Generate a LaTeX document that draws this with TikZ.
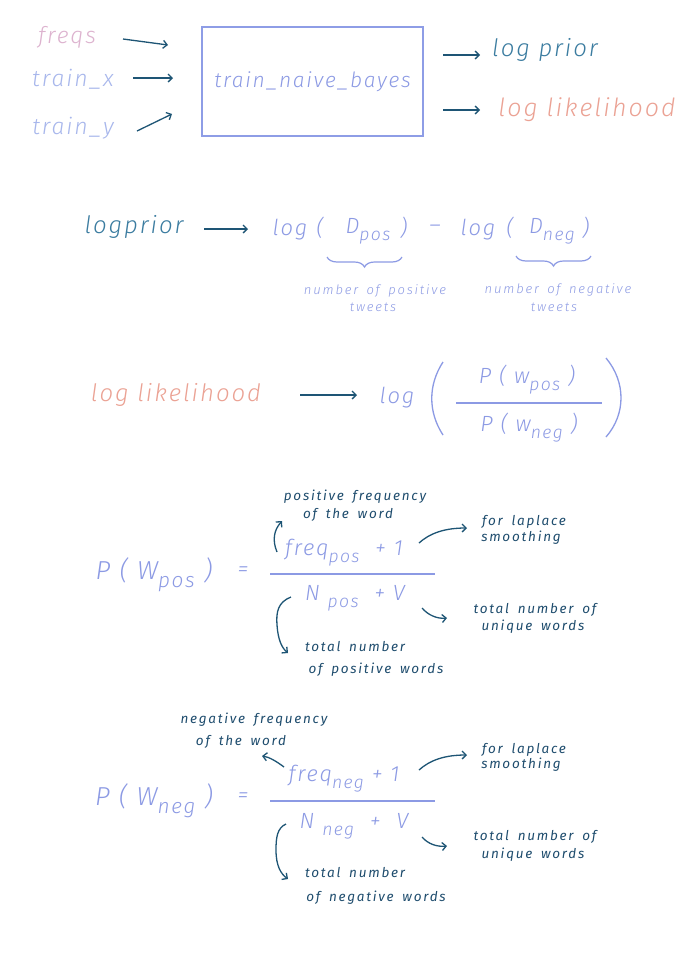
\documentclass[tikz,border=0pt]{standalone}
\usepackage{fontspec}
\usepackage{graphicx}
\setmainfont{Fira Sans}
\newfontfamily\hand{Fira Sans}[LetterSpace=8.0, UprightFont=* Light, ItalicFont=* Light Italic]
\newfontfamily\handw{Fira Sans}[LetterSpace=14.0, UprightFont=* Light, ItalicFont=* Light Italic]
\newfontfamily\handr{Fira Sans}[LetterSpace=13.0]
\usetikzlibrary{arrows.meta,decorations.pathreplacing}
\definecolor{freqsC}{HTML}{DDB3CF}
\definecolor{inC}{HTML}{A8B7EC}
\definecolor{arrC}{HTML}{1E5575}
\definecolor{boxC}{HTML}{8E9DE6}
\definecolor{priorC}{HTML}{3B7CA0}
\definecolor{likeC}{HTML}{EBA294}
\definecolor{fmlC}{HTML}{8C9AE4}
\definecolor{annC}{HTML}{1F4D6E}
\newcommand\sbs[1]{\raisebox{-0.6ex}{\scalebox{0.8}{#1}}}
\newcommand\fsz[1]{\fontsize{#1}{#1}\selectfont}
\newcommand\wsp{\spaceskip=0.65em\relax}
\tikzset{
  every node/.style={inner sep=0pt, outer sep=0pt},
  inp/.style={text=inC, font=\hand\itshape\fsz{23}},
  arr/.style={draw=arrC, line width=1.3pt, -{Straight Barb[length=4pt,width=8pt]}},
  fml/.style={text=fmlC, font=\hand\itshape\fsz{22}},
  big/.style={text=fmlC, font=\hand\itshape\fsz{26}},
  lann/.style={text=fmlC, font={\handw\itshape\fsz{13}\wsp}},
  ann/.style={text=annC, font={\handr\itshape\fsz{13.5}\wsp}},
  prior/.style={text=priorC, font=\hand\itshape\fsz{24}},
  like/.style={text=likeC, font=\hand\itshape\fsz{24}},
  fline/.style={draw=fmlC, line width=1.3pt},
  brc/.style={draw=fmlC, line width=1.2pt, decorate, decoration={brace, amplitude=10pt, mirror}},
}
\begin{document}
\begin{tikzpicture}[x=1pt,y=-1pt]
\useasboundingbox[fill=white] (0,0) rectangle (694,959);
% ---------- top ----------
\node[inp, text=freqsC] (freqs) at (67,37) {freqs};
\node[inp] (trainx) at (73,79) {train\_x};
\node[inp] (trainy) at (73,128) {train\_y};
\node[draw=boxC, line width=1.3pt, minimum width=221pt, minimum height=109pt, fml, font=\hand\itshape\fsz{21}] (box) at (312.5,81.5) {\raisebox{4pt}{train\_naive\_bayes}};
\coordinate (f1) at (123,39); \coordinate (f2) at (168,45);
\coordinate (x1) at (133,78); \coordinate (x2) at (173,78);
\coordinate (y1) at (137,131); \coordinate (y2) at (172,114);
\draw[arr] (f1) -- (f2);
\draw[arr] (x1) -- (x2);
\draw[arr] (y1) -- (y2);
\coordinate (o1) at (443,55); \coordinate (o2) at (480,55);
\coordinate (o3) at (443,110); \coordinate (o4) at (480,110);
\draw[arr] (o1) -- (o2);
\draw[arr] (o3) -- (o4);
\node[prior] (lp) at (545,50) {log prior};
\node[like, font=\hand\itshape\fsz{25}] (ll) at (587,110) {log likelihood};
% ---------- log prior ----------
\node[prior] (lp2) at (134,227) {logprior};
\coordinate (p1) at (204,229); \coordinate (p2) at (248,229);
\draw[arr] (p1) -- (p2);
\node[fml] (log1) at (290,230) {log};
\node[fml] (lpar1) at (320,228) {(};
\node[fml] (dpos) at (368,231) {D\sbs{pos}};
\node[fml] (rpar1) at (404,228) {)};
\node[fml] (minus) at (435,229) {–};
\node[fml] (log2) at (478,230) {log};
\node[fml] (lpar2) at (510,228) {(};
\node[fml] (dneg) at (552,231) {D\sbs{neg}};
\node[fml] (rpar2) at (586,228) {)};
\coordinate (b1s) at (327,257); \coordinate (b1e) at (402,257);
\coordinate (b2s) at (516,256); \coordinate (b2e) at (591,256);
\draw[brc] (b1s) -- (b1e);
\draw[brc] (b2s) -- (b2e);
\node[lann] (np1) at (375,291) {number of positive};
\node[lann] (np2) at (373,307) {tweets};
\node[lann] (nn1) at (558,290) {number of negative};
\node[lann] (nn2) at (554,307) {tweets};
% ---------- log likelihood ----------
\node[like] (ll2) at (176,395) {log likelihood};
\coordinate (l1) at (300,395); \coordinate (l2) at (357,395);
\draw[arr] (l1) -- (l2);
\node[fml] (log3) at (397,398) {log};
\coordinate (bp1) at (443,362); \coordinate (bp2) at (443,435);
\coordinate (bq1) at (606,358); \coordinate (bq2) at (606,437);
\draw[fline] (bp1) .. controls (428,385) and (428,412) .. (bp2);
\draw[fline] (bq1) .. controls (626,382) and (626,414) .. (bq2);
\node[fml] (num3) at (527,380) {P ( w\sbs{pos} )};
\node[fml] (den3) at (529,428) {P ( w\sbs{neg} )};
\coordinate (fl3a) at (456,403); \coordinate (fl3b) at (602,403);
\draw[fline] (fl3a) -- (fl3b);
% ---------- P(W_pos) ----------
\node[big] (pwp) at (154,575) {P ( W\sbs{pos} )};
\node[fml] (eq1) at (243,572) {=};
\node[fml] (num4) at (344,553) {freq\sbs{pos} \ + 1};
\node[fml] (den4) at (355,598) {N \sbs{pos} \ + V};
\coordinate (fl4a) at (270,574); \coordinate (fl4b) at (435,574);
\draw[fline] (fl4a) -- (fl4b);
\node[ann] (pf1) at (355,497) {positive frequency};
\node[ann] (pf2) at (348,515) {of the word};
\node[ann] (lp1) at (524,522) {for laplace};
\node[ann] (lpb) at (521,538) {smoothing};
\node[ann] (tu1) at (535,610) {total number of};
\node[ann] (tu2) at (533,627) {unique words};
\node[ann] (tp1) at (355,647) {total number};
\node[ann] (tp2) at (376,670) {of positive words};
\coordinate (a1s) at (277,552); \coordinate (a1e) at (282,521);
\draw[arr] (a1s) .. controls (272,540) and (274,530) .. (a1e);
\coordinate (a2s) at (419,543); \coordinate (a2e) at (467,528);
\draw[arr] (a2s) .. controls (430,533) and (445,528) .. (a2e);
\coordinate (a3s) at (422,608); \coordinate (a3e) at (447,618);
\draw[arr] (a3s) .. controls (428,615) and (437,619) .. (a3e);
\coordinate (a4s) at (291,597); \coordinate (a4m) at (277,625); \coordinate (a4e) at (288,653);
\draw[arr] (a4s) .. controls (278,602) and (276,612) .. (a4m) .. controls (278,640) and (282,648) .. (a4e);
% ---------- P(W_neg) ----------
\node[big] (pwn) at (154,801) {P ( W\sbs{neg} )};
\node[fml] (eq2) at (243,798) {=};
\node[fml] (num5) at (344,779) {freq\sbs{neg} + 1};
\node[fml] (den5) at (354,826) {N \sbs{neg} \ + \ V};
\coordinate (fl5a) at (270,801); \coordinate (fl5b) at (435,801);
\draw[fline] (fl5a) -- (fl5b);
\node[ann] (nf1) at (254,720) {negative frequency};
\node[ann] (nf2) at (241,742) {of the word};
\node[ann] (ln1) at (524,750) {for laplace};
\node[ann] (ln2) at (521,765) {smoothing};
\node[ann] (tn1) at (535,837) {total number of};
\node[ann] (tn2) at (533,855) {unique words};
\node[ann] (tw1) at (355,873) {total number};
\node[ann] (tw2) at (376,898) {of negative words};
\coordinate (b1) at (284,767); \coordinate (b1x) at (262,756);
\draw[arr] (b1) .. controls (276,761) and (269,757) .. (b1x);
\coordinate (b2) at (419,770); \coordinate (b2x) at (467,755);
\draw[arr] (b2) .. controls (430,760) and (445,755) .. (b2x);
\coordinate (b3) at (422,837); \coordinate (b3x) at (447,846);
\draw[arr] (b3) .. controls (428,844) and (437,847) .. (b3x);
\coordinate (b4) at (286,824); \coordinate (b4m) at (276,850); \coordinate (b4x) at (288,879);
\draw[arr] (b4) .. controls (277,828) and (276,838) .. (b4m) .. controls (276,866) and (281,874) .. (b4x);
\end{tikzpicture}
\end{document}
